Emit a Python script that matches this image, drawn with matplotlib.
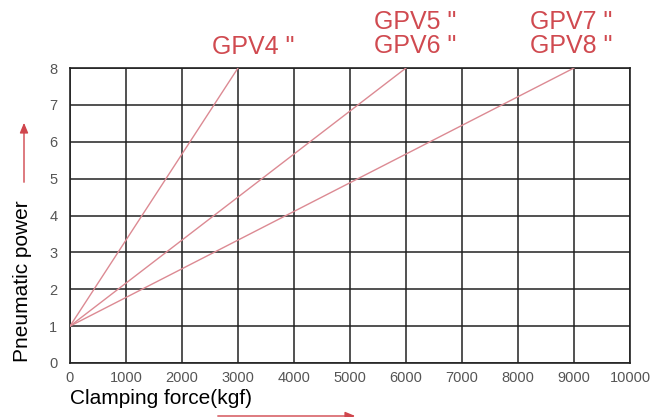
import matplotlib
matplotlib.use("Agg")
import matplotlib.pyplot as plt
from matplotlib.patches import FancyArrowPatch

plt.rcParams["font.family"] = ["Liberation Sans", "DejaVu Sans"]

# data: all lines start at (0 kgf, 1) and end at power 8
series_labels = ['GPV4 "', 'GPV5 "\nGPV6 "', 'GPV7 "\nGPV8 "']
force_start = [0, 0, 0]
force_end = [3000, 6000, 9000]
power_start = [1, 1, 1]
power_end = [8, 8, 8]
x_ticks = [0, 1000, 2000, 3000, 4000, 5000, 6000, 7000, 8000, 9000, 10000]
y_ticks = [0, 1, 2, 3, 4, 5, 6, 7, 8]

LINE_COL = "#dc8a93"
TEXT_COL = "#d04a50"

fig = plt.figure(figsize=(6.68, 4.17), dpi=100, facecolor="white")
ax = fig.add_axes([70 / 668, 1 - 363 / 417, 560 / 668, 295 / 417])
ax.set_xlim(0, 10000); ax.set_ylim(0, 8)
ax.set_xticks(x_ticks); ax.set_yticks(y_ticks)
ax.grid(True, color="#222222", lw=1.1)
for s in ax.spines.values():
    s.set_color("#222222"); s.set_linewidth(1.2)
ax.tick_params(length=0, labelsize=10.5, labelcolor="#555555")
ax.tick_params(axis="x", pad=6)
ax.tick_params(axis="y", pad=9)

for x0, x1, y0, y1 in zip(force_start, force_end, power_start, power_end):
    ax.plot([x0, x1], [y0, y1], color=LINE_COL, lw=1.0, zorder=3)

# series labels above the top edge, centred near each line's end
label_x = [3270, 6160, 8950]
label_y = [8.57, 8.93, 8.93]
for lab, lx, ly in zip(series_labels, label_x, label_y):
    ax.text(lx, ly, lab, color=TEXT_COL, fontsize=18, ha="center", va="center",
            linespacing=1.0, clip_on=False)

fig.text(70 / 668, 1 - 398 / 417, "Clamping force(kgf)", fontsize=15, ha="left", va="center")
fig.text(22 / 668, 1 - 281 / 417, "Pneumatic power", fontsize=15, rotation=90,
         ha="center", va="center")

# red arrows beside the axis labels
fig.patches.append(FancyArrowPatch((24 / 668, 1 - 185 / 417), (24 / 668, 1 - 120 / 417),
                                   transform=fig.transFigure, arrowstyle="-|>,head_length=6,head_width=2.5",
                                   color="#d0454c", lw=1.0))
fig.patches.append(FancyArrowPatch((215 / 668, 1 - 416 / 417), (358 / 668, 1 - 416 / 417),
                                   transform=fig.transFigure, arrowstyle="-|>,head_length=6,head_width=2.5",
                                   color="#d0454c", lw=1.0))

fig.savefig("out.png", dpi=100, facecolor="white")
